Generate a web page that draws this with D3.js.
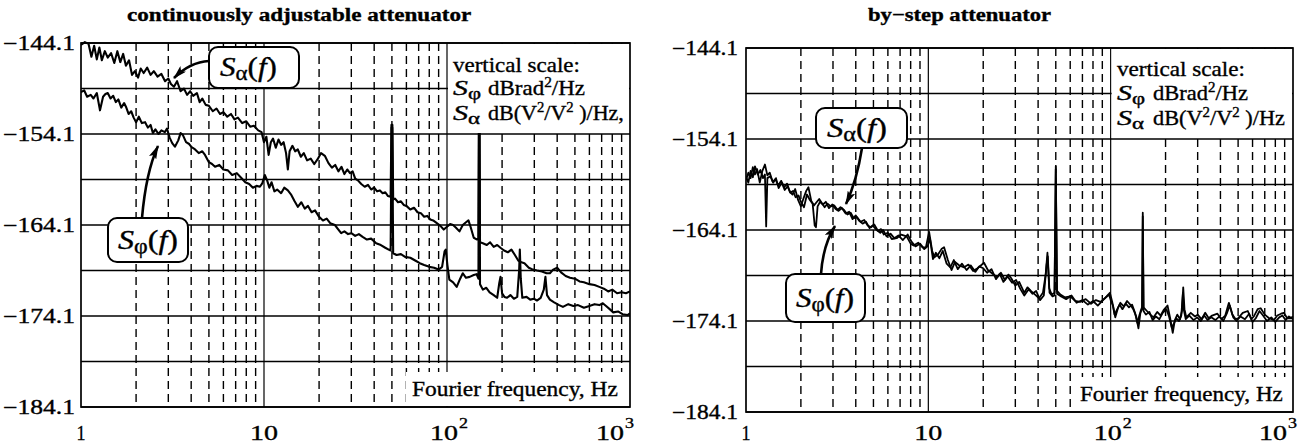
<!DOCTYPE html>
<html><head><meta charset="utf-8">
<script src="https://cdn.jsdelivr.net/npm/d3@7"></script>
<style>
body{margin:0;background:#fff}
svg{display:block}
text{font-family:"Liberation Serif","Times New Roman",serif;fill:#000;stroke:#000;stroke-width:0.35px}
</style>
</head><body>
<svg id="c" width="1306" height="446"></svg>
<script>
// ---------- data ----------
const titles = ["continuously adjustable attenuator", "by\u2212step attenuator"];
const yTickValues = [-144.1, -154.1, -164.1, -174.1, -184.1];
const yTickLabels = ["\u2212144.1", "\u2212154.1", "\u2212164.1", "\u2212174.1", "\u2212184.1"];
const yGridValues = [-144.1, -149.1, -154.1, -159.1, -164.1, -169.1, -174.1, -179.1, -184.1];
const xTickValues = [1, 10, 100, 1000];
const xTickBase = ["1", "10", "10", "10"];
const xTickSup = ["", "", "2", "3"];
const xAxisLabel = "Fourier frequency, Hz";
const legendTitle = "vertical scale:";
const legendPhiUnit = ["dBrad", "2", "/Hz"];
const legendAlphaUnitLeft = ["dB(V", "2", "/V", "2", " )/Hz,"];
const legendAlphaUnitRight = ["dB(V", "2", "/V", "2", " )/Hz"];

// left panel: continuously adjustable attenuator  [frequency Hz, dB]
const leftAlpha = [[1.00,-144.3],[1.05,-144.0],[1.10,-144.2],[1.14,-145.6],[1.18,-144.4],[1.22,-145.9],[1.26,-144.6],[1.30,-146.0],[1.35,-145.0],[1.40,-145.7],[1.46,-145.2],[1.52,-146.3],[1.58,-145.0],[1.64,-146.2],[1.70,-145.3],[1.76,-146.6],[1.83,-146.0],[1.90,-147.6],[1.97,-147.2],[2.05,-147.9],[2.12,-146.9],[2.20,-147.4],[2.30,-146.8],[2.40,-147.6],[2.50,-147.2],[2.62,-147.8],[2.75,-147.5],[2.88,-148.3],[3.00,-148.0],[3.10,-148.6],[3.22,-148.9],[3.35,-148.3],[3.50,-149.4],[3.65,-149.1],[3.80,-149.8],[3.95,-149.4],[4.10,-149.9],[4.30,-149.6],[4.45,-150.6],[4.60,-150.2],[4.80,-150.9],[5.00,-151.0],[5.25,-151.6],[5.50,-151.3],[5.75,-151.9],[6.00,-151.7],[6.30,-152.2],[6.60,-151.9],[6.90,-152.5],[7.20,-152.3],[7.60,-152.9],[8.00,-152.7],[8.40,-153.3],[8.80,-153.2],[9.30,-153.7],[9.70,-153.9],[10.0,-155.0],[10.3,-154.4],[10.6,-156.4],[10.9,-155.0],[11.2,-154.6],[11.6,-155.6],[12.0,-154.7],[12.4,-155.3],[12.8,-155.0],[13.2,-156.2],[13.5,-158.0],[13.8,-156.0],[14.3,-155.4],[14.8,-156.0],[15.3,-155.8],[15.9,-156.6],[16.5,-156.2],[17.2,-157.0],[18.0,-156.8],[18.8,-157.4],[19.6,-156.9],[20.5,-156.2],[21.5,-156.5],[22.5,-157.3],[23.5,-157.8],[24.5,-157.5],[25.5,-158.2],[26.5,-157.7],[27.5,-158.5],[28.5,-158.0],[29.5,-158.4],[30.5,-158.2],[31.5,-159.0],[32.6,-159.2],[34.0,-159.6],[35.5,-159.9],[37.0,-159.7],[38.5,-160.2],[40.0,-160.0],[41.5,-160.4],[43.0,-160.3],[44.5,-160.6],[46.0,-160.5],[47.5,-160.9],[49.2,-161.0],[49.7,-153.1],[50.3,-153.1],[50.8,-161.3],[52.0,-161.2],[54.0,-161.6],[56.0,-161.5],[58.0,-161.9],[60.0,-162.0],[63.0,-162.4],[66.0,-162.2],[69.0,-162.7],[72.0,-162.8],[75.0,-163.2],[78.0,-163.1],[81.0,-163.5],[84.0,-163.6],[88.0,-163.9],[92.0,-164.2],[96.0,-164.6],[100,-164.3],[104,-164.0],[108,-164.1],[112,-164.4],[117,-164.8],[122,-164.1],[127,-163.8],[131,-163.6],[135,-164.4],[140,-165.5],[146,-165.7],[148.5,-165.6],[149.5,-151.0],[150.5,-151.0],[151.5,-166.0],[157,-166.1],[165,-166.3],[172,-166.0],[180,-166.5],[188,-166.3],[196,-166.6],[205,-166.9],[215,-167.1],[225,-166.8],[235,-167.4],[245,-168.0],[255,-168.2],[265,-168.3],[280,-168.8],[295,-169.0],[310,-169.1],[330,-169.2],[350,-169.4],[365,-169.4],[380,-169.0],[400,-168.8],[420,-169.3],[445,-169.7],[470,-169.9],[500,-170.0],[530,-170.3],[560,-170.4],[600,-170.6],[640,-170.7],[680,-170.9],[720,-171.1],[760,-171.4],[800,-171.2],[850,-171.6],[900,-171.5],[950,-171.6],[1000,-171.4]];
const leftPhi = [[1.00,-149.5],[1.04,-149.3],[1.08,-150.0],[1.13,-149.8],[1.17,-150.2],[1.22,-149.6],[1.27,-151.5],[1.32,-150.0],[1.36,-149.7],[1.40,-149.6],[1.45,-150.2],[1.50,-149.9],[1.55,-150.6],[1.60,-150.3],[1.66,-151.2],[1.72,-150.7],[1.76,-151.1],[1.82,-151.9],[1.88,-151.6],[1.94,-152.3],[2.00,-152.8],[2.07,-152.2],[2.15,-152.9],[2.24,-152.8],[2.32,-153.4],[2.40,-153.1],[2.47,-154.0],[2.55,-153.6],[2.65,-154.1],[2.75,-153.7],[2.87,-153.9],[2.95,-153.5],[3.05,-154.5],[3.15,-155.1],[3.26,-155.5],[3.40,-154.8],[3.50,-154.0],[3.60,-154.2],[3.75,-155.0],[3.90,-155.2],[4.00,-155.5],[4.20,-155.8],[4.40,-156.2],[4.60,-156.0],[4.76,-156.4],[5.00,-157.2],[5.20,-157.4],[5.40,-157.7],[5.70,-157.5],[6.00,-158.0],[6.35,-158.1],[6.70,-158.6],[7.10,-158.4],[7.50,-158.9],[7.90,-159.4],[8.30,-159.6],[8.70,-160.0],[9.10,-159.8],[9.50,-159.9],[9.80,-159.5],[10.1,-158.6],[10.4,-159.2],[10.7,-160.0],[11.0,-159.4],[11.4,-160.4],[11.8,-160.2],[12.4,-160.6],[12.9,-160.0],[13.5,-160.3],[14.1,-160.8],[14.7,-161.5],[15.3,-162.1],[16.0,-161.6],[16.7,-162.3],[17.4,-162.0],[18.2,-162.7],[19.0,-162.5],[20.0,-163.2],[21.0,-163.6],[22.0,-163.4],[23.0,-163.9],[24.4,-164.1],[25.5,-164.6],[26.4,-165.0],[27.5,-164.8],[28.8,-165.1],[30.0,-165.0],[31.5,-165.3],[33.0,-165.1],[34.6,-165.4],[36.5,-165.7],[38.5,-165.6],[41.0,-166.1],[43.5,-166.3],[46.0,-166.6],[48.0,-166.8],[49.2,-166.9],[49.8,-153.4],[50.2,-153.4],[50.8,-167.2],[53.0,-167.4],[56.0,-167.3],[59.0,-167.6],[63.0,-167.7],[67.0,-168.0],[71.0,-168.3],[75.0,-168.5],[80.0,-168.7],[85.0,-168.8],[90.0,-169.0],[94.0,-168.7],[97.0,-167.0],[98.5,-166.8],[100.5,-168.5],[103,-170.1],[108,-170.4],[113,-170.9],[118,-170.0],[122,-169.4],[127,-169.9],[133,-169.8],[140,-169.6],[145,-169.5],[148.5,-170.0],[149.6,-152.0],[150.4,-152.0],[151.5,-170.6],[157,-171.2],[164,-171.0],[171,-171.5],[180,-171.8],[188,-172.1],[193,-170.5],[196,-169.8],[200,-171.6],[206,-172.0],[213,-172.1],[222,-171.8],[232,-172.2],[242,-172.0],[248,-169.0],[250,-166.8],[253,-170.0],[258,-172.1],[272,-172.0],[285,-172.3],[298,-172.2],[310,-172.4],[325,-172.1],[338,-171.2],[345,-169.8],[352,-171.8],[365,-172.3],[385,-172.6],[410,-172.9],[430,-173.1],[460,-172.8],[490,-173.0],[520,-172.9],[560,-173.2],[600,-173.0],[640,-172.8],[680,-172.9],[710,-172.7],[740,-173.0],[780,-173.4],[810,-173.7],[860,-173.6],[910,-173.9],[970,-174.0],[1000,-173.8]];

// right panel: by-step attenuator
const rightAlpha = [[1.00,-158.6],[1.03,-157.8],[1.06,-158.4],[1.09,-157.2],[1.12,-158.0],[1.15,-157.4],[1.19,-158.9],[1.23,-157.6],[1.27,-156.9],[1.31,-158.1],[1.35,-157.8],[1.40,-158.8],[1.45,-158.5],[1.50,-159.2],[1.56,-158.7],[1.62,-159.4],[1.68,-159.0],[1.74,-159.9],[1.80,-160.2],[1.86,-159.6],[1.93,-160.8],[2.00,-161.5],[2.07,-160.6],[2.14,-159.8],[2.20,-159.4],[2.28,-160.9],[2.36,-161.4],[2.45,-161.0],[2.52,-160.7],[2.60,-161.1],[2.70,-161.6],[2.80,-161.2],[2.92,-161.5],[3.05,-161.4],[3.18,-161.9],[3.30,-161.6],[3.45,-161.9],[3.60,-162.4],[3.75,-162.2],[3.90,-162.8],[4.07,-162.7],[4.25,-163.2],[4.45,-163.0],[4.65,-163.6],[4.85,-163.8],[5.05,-163.5],[5.30,-164.2],[5.50,-164.0],[5.70,-164.6],[6.00,-164.4],[6.30,-165.1],[6.70,-165.0],[7.10,-164.6],[7.60,-164.8],[8.00,-165.6],[8.30,-165.8],[8.80,-165.5],[9.30,-166.0],[9.70,-166.0],[10.1,-164.3],[10.5,-166.4],[10.8,-167.1],[11.3,-166.8],[11.8,-166.2],[12.2,-166.0],[12.8,-167.4],[13.4,-168.5],[14.0,-167.6],[14.8,-168.0],[15.7,-168.2],[16.6,-167.9],[17.6,-168.6],[18.6,-168.3],[19.4,-168.0],[20.2,-167.7],[21.2,-168.5],[22.5,-168.9],[23.9,-169.3],[25.0,-168.8],[26.3,-169.6],[27.5,-169.0],[28.5,-169.4],[30.0,-170.2],[31.5,-169.8],[33.6,-171.0],[35.0,-170.4],[36.5,-170.8],[38.5,-171.2],[40.5,-171.6],[42.5,-171.0],[44.0,-169.0],[45.0,-166.6],[46.0,-170.5],[47.5,-171.2],[49.2,-171.0],[50.0,-157.1],[50.8,-170.8],[53.0,-171.2],[56.0,-171.5],[60.0,-171.4],[64.0,-171.9],[68.0,-172.0],[73.0,-171.7],[78.0,-172.2],[83.0,-171.8],[88.0,-172.0],[93.0,-171.6],[98.0,-171.2],[100,-171.8],[103,-172.4],[106,-173.7],[110,-172.6],[113,-172.1],[118,-172.5],[123,-171.9],[128,-172.3],[133,-172.8],[138,-173.6],[142,-174.9],[146,-173.0],[149,-172.5],[150,-162.2],[151.5,-172.6],[158,-173.0],[165,-173.4],[172,-173.7],[180,-173.1],[188,-173.5],[195,-172.9],[205,-172.4],[212,-173.8],[219,-175.4],[225,-174.0],[232,-173.4],[240,-173.9],[246,-173.0],[250,-170.4],[254,-172.8],[260,-173.7],[275,-173.2],[290,-173.6],[300,-173.4],[315,-173.9],[330,-173.2],[345,-173.8],[360,-173.5],[385,-173.3],[405,-173.9],[425,-173.5],[445,-172.1],[465,-173.4],[485,-173.9],[500,-173.8],[530,-173.2],[565,-173.0],[590,-173.9],[610,-173.6],[640,-172.8],[665,-172.7],[700,-173.4],[740,-173.8],[785,-174.0],[820,-173.5],[860,-173.3],[890,-173.2],[930,-173.8],[970,-173.8],[1000,-173.6]];
const rightPhi = [[1.00,-158.2],[1.03,-158.9],[1.06,-157.6],[1.09,-158.3],[1.12,-157.1],[1.16,-158.0],[1.20,-157.5],[1.24,-158.4],[1.27,-158.0],[1.29,-163.7],[1.31,-158.4],[1.36,-158.2],[1.41,-158.9],[1.46,-158.4],[1.51,-159.5],[1.57,-158.9],[1.63,-159.7],[1.69,-159.3],[1.75,-160.0],[1.81,-159.8],[1.87,-160.5],[1.94,-160.3],[2.00,-161.0],[2.08,-161.6],[2.16,-160.2],[2.24,-160.8],[2.32,-161.2],[2.38,-163.6],[2.42,-163.8],[2.47,-161.5],[2.55,-161.0],[2.64,-161.3],[2.74,-161.0],[2.85,-161.7],[2.97,-161.3],[3.10,-161.8],[3.22,-162.0],[3.36,-161.7],[3.52,-162.3],[3.68,-162.1],[3.84,-162.9],[4.00,-162.5],[4.18,-163.1],[4.36,-163.4],[4.55,-163.2],[4.76,-163.9],[4.95,-163.6],[5.20,-164.1],[5.45,-164.4],[5.65,-164.1],[5.90,-164.8],[6.20,-164.5],[6.50,-165.0],[6.85,-164.7],[7.25,-165.2],[7.70,-164.6],[8.10,-165.4],[8.50,-165.9],[9.00,-165.6],[9.50,-166.2],[9.90,-165.9],[10.2,-165.0],[10.6,-167.3],[11.0,-166.6],[11.5,-167.2],[12.0,-166.4],[12.6,-167.8],[13.2,-168.2],[13.8,-167.4],[14.5,-168.4],[15.3,-167.8],[16.2,-168.5],[17.1,-168.0],[18.1,-168.7],[19.0,-168.1],[20.0,-168.3],[21.0,-168.8],[22.2,-168.4],[23.5,-169.5],[24.6,-168.9],[25.8,-169.8],[27.2,-169.2],[28.8,-169.9],[30.3,-169.6],[32.0,-170.6],[33.6,-171.3],[35.5,-170.6],[37.2,-171.1],[39.0,-170.8],[41.0,-171.8],[43.0,-171.3],[44.5,-168.0],[45.2,-167.0],[46.2,-171.0],[48.0,-171.4],[49.2,-171.3],[50.0,-157.4],[50.8,-171.1],[53.5,-171.4],[57.0,-171.7],[61.0,-171.3],[65.0,-172.1],[70.0,-171.8],[75.0,-172.3],[80.0,-171.9],[85.0,-172.4],[90.0,-171.9],[95.0,-171.4],[99.0,-171.0],[102,-172.0],[105,-173.4],[108,-172.9],[112,-172.3],[116,-172.8],[121,-172.2],[126,-172.6],[131,-172.3],[136,-173.2],[140,-174.3],[144,-173.4],[148.5,-172.8],[150,-162.6],[151.5,-173.0],[156,-173.4],[163,-173.1],[170,-174.0],[177,-173.6],[185,-173.9],[193,-173.2],[202,-172.8],[209,-173.6],[216,-174.8],[222,-174.4],[229,-173.8],[237,-174.1],[244,-173.5],[249,-171.0],[252,-172.9],[258,-173.9],[270,-173.5],[285,-174.0],[298,-173.7],[312,-174.1],[326,-173.5],[340,-174.0],[356,-173.7],[375,-174.0],[395,-173.6],[415,-174.1],[435,-173.2],[450,-172.4],[470,-173.7],[490,-174.1],[515,-173.6],[545,-173.9],[575,-173.3],[600,-174.2],[625,-173.8],[655,-173.0],[685,-173.5],[720,-174.1],[760,-173.7],[800,-174.2],[840,-173.7],[875,-173.5],[910,-174.0],[950,-173.6],[1000,-173.9]];

// ---------- layout ----------
const panels = [
  {x0:81, x1:630, y0:43, y1:407, title:titles[0], titleX:127, titleW:345, series:[leftAlpha,leftPhi], sw:2.1,
   labX:453, unitX:488, legBase:[72,95,120], units:[legendPhiUnit, legendAlphaUnitLeft], unitW:[97,136], legW:127,
   fBox:[406,372], fTextX:412, fTextW:206,
   ylabW:72, ylabGap:6,
   ann:[
     {sub:"\u03b1", box:[209,47,90,41], tx:220, tw:57, ty:76, path:"M209,61 Q190,62 174,78"},
     {sub:"\u03c6", box:[108,218,80,44], tx:118, tw:60, ty:249, path:"M142,218 Q146,172 158,146"}
   ]},
  {x0:746, x1:1293, y0:48, y1:412, title:titles[1], titleX:868, titleW:184, series:[rightAlpha,rightPhi], sw:1.8,
   labX:1117, unitX:1153, legBase:[76,100,125], units:[legendPhiUnit, legendAlphaUnitRight], unitW:[95,132], legW:128,
   fBox:[1074,377], fTextX:1080, fTextW:203,
   ylabW:66, ylabGap:8,
   ann:[
     {sub:"\u03b1", box:[816,108,91,40], tx:827, tw:60, ty:137, path:"M862,148 Q857,180 846,204"},
     {sub:"\u03c6", box:[786,274,79,48], tx:796, tw:58, ty:307, path:"M821,274 Q823,245 835,226"}
   ]}
];

const svg = d3.select("#c");
const defs = svg.append("defs");
defs.append("marker").attr("id","ah").attr("markerUnits","userSpaceOnUse")
  .attr("viewBox","0 0 14 8").attr("refX",13).attr("refY",4)
  .attr("markerWidth",14).attr("markerHeight",8).attr("orient","auto")
  .append("path").attr("d","M0,0 L14,4 L0,8 L3,4 Z").attr("fill","#000");

function fit(sel, x, y, w) {
  sel.attr("x",0).attr("y",0);
  const bb = sel.node().getBBox();
  const s = w / bb.width;
  sel.attr("transform", `translate(${x - bb.x*s},${y}) scale(${s},1)`);
}

panels.forEach((p, pi) => {
  const x = d3.scaleLog().domain([1,1000]).range([p.x0,p.x1]);
  const y = d3.scaleLinear().domain([-184.1,-144.1]).range([p.y1,p.y0]);
  const g = svg.append("g");
  const clipId = "clip"+pi;
  defs.append("clipPath").attr("id",clipId).append("rect")
    .attr("x",p.x0).attr("y",p.y0-2).attr("width",p.x1-p.x0).attr("height",p.y1-p.y0+2);

  // vertical grid
  const minor = [];
  [1,10,100].forEach(d => { for (let k=2;k<=9;k++) minor.push(d*k); });
  g.selectAll(".vminor").data(minor).join("line")
    .attr("x1",d=>x(d)).attr("x2",d=>x(d)).attr("y1",p.y0).attr("y2",p.y1)
    .attr("stroke","#000").attr("stroke-width",1.4).attr("stroke-dasharray","8,5");
  g.selectAll(".vmajor").data([10,100]).join("line")
    .attr("x1",d=>x(d)).attr("x2",d=>x(d)).attr("y1",p.y0).attr("y2",p.y1)
    .attr("stroke","#000").attr("stroke-width",1.2);
  // horizontal grid
  g.selectAll(".hgrid").data(yGridValues).join("line")
    .attr("x1",p.x0).attr("x2",p.x1).attr("y1",d=>y(d)).attr("y2",d=>y(d))
    .attr("stroke","#000").attr("stroke-width",1.3);

  // curves
  const line = d3.line().x(d=>x(d[0])).y(d=>y(d[1]));
  p.series.forEach(s => {
    g.append("path").datum(s).attr("d",line).attr("clip-path",`url(#${clipId})`)
      .attr("fill","none").attr("stroke","#000").attr("stroke-width",p.sw).attr("stroke-linejoin","round");
  });

  // legend box (white area from 100 Hz to 1000 Hz, top band)
  g.append("rect").attr("x",x(100)+1).attr("y",p.y0+1)
    .attr("width",x(1000)-x(100)-2).attr("height",y(-154.1)-p.y0-2).attr("fill","#fff");
  // Fourier frequency box
  g.append("rect").attr("x",p.fBox[0]).attr("y",p.fBox[1])
    .attr("width",p.x1-p.fBox[0]-1).attr("height",p.y1-p.fBox[1]-1).attr("fill","#fff");

  // frame
  g.append("rect").attr("x",p.x0).attr("y",p.y0).attr("width",p.x1-p.x0).attr("height",p.y1-p.y0)
    .attr("fill","none").attr("stroke","#000").attr("stroke-width",1.7);

  // title
  const t = svg.append("text").attr("font-weight","bold").attr("font-size",19).text(p.title);
  fit(t, p.titleX, 21, p.titleW);

  // y tick labels
  yTickValues.forEach((v,i) => {
    const tl = svg.append("text").attr("font-size",20).text(yTickLabels[i]);
    fit(tl, p.x0 - p.ylabGap - p.ylabW, y(v)+7, p.ylabW);
  });

  // x tick labels
  xTickValues.forEach((v,i) => {
    const baseW = xTickBase[i].length === 1 ? 9 : 28;
    let start;
    if (!xTickSup[i]) start = x(v) - baseW/2;
    else if (v === 1000) start = x(v) + 4 - 38;
    else start = x(v) - 17;
    const tb = svg.append("text").attr("font-size",21).text(xTickBase[i]);
    fit(tb, start, 440, baseW);
    if (xTickSup[i]) {
      const ts = svg.append("text").attr("font-size",15).text(xTickSup[i]);
      fit(ts, start + baseW + 1, 428, 9);
    }
  });

  // x axis label
  const fl = svg.append("text").attr("font-size",21).text(xAxisLabel);
  fit(fl, p.fTextX, p.y1 - 11, p.fTextW);

  // legend text
  const l1 = svg.append("text").attr("font-size",21).text(legendTitle);
  fit(l1, p.labX, p.legBase[0], p.legW);
  [["\u03c6", p.units[0]], ["\u03b1", p.units[1]]].forEach((row, ri) => {
    const base = p.legBase[ri+1];
    const sym = svg.append("text").attr("font-size",21);
    sym.append("tspan").attr("font-style","italic").text("S");
    sym.append("tspan").attr("font-size",16).attr("dy",4).text(row[0]);
    fit(sym, p.labX, base, 28);
    const u = svg.append("text").attr("font-size",21);
    row[1].forEach((part, k) => {
      const isSup = part === "2";
      const ts = u.append("tspan").text(part);
      if (isSup) ts.attr("font-size",14).attr("dy",-8);
      else if (k > 0 && row[1][k-1] === "2") ts.attr("dy",8);
    });
    fit(u, p.unitX, base, p.unitW[ri]);
  });

  // annotations
  p.ann.forEach(a => {
    svg.append("rect").attr("x",a.box[0]).attr("y",a.box[1]).attr("width",a.box[2]).attr("height",a.box[3])
      .attr("rx",9).attr("ry",9).attr("fill","#fff").attr("stroke","#000").attr("stroke-width",2);
    const at = svg.append("text").attr("font-size",27);
    at.append("tspan").attr("font-style","italic").text("S");
    at.append("tspan").attr("font-size",20).attr("dy",4).text(a.sub);
    at.append("tspan").attr("dy",-4).text("(");
    at.append("tspan").attr("font-style","italic").text("f");
    at.append("tspan").text(")");
    fit(at, a.tx, a.ty, a.tw);
    svg.append("path").attr("d",a.path).attr("fill","none").attr("stroke","#000")
      .attr("stroke-width",2.6).attr("marker-end","url(#ah)");
  });
});
</script>
</body></html>
